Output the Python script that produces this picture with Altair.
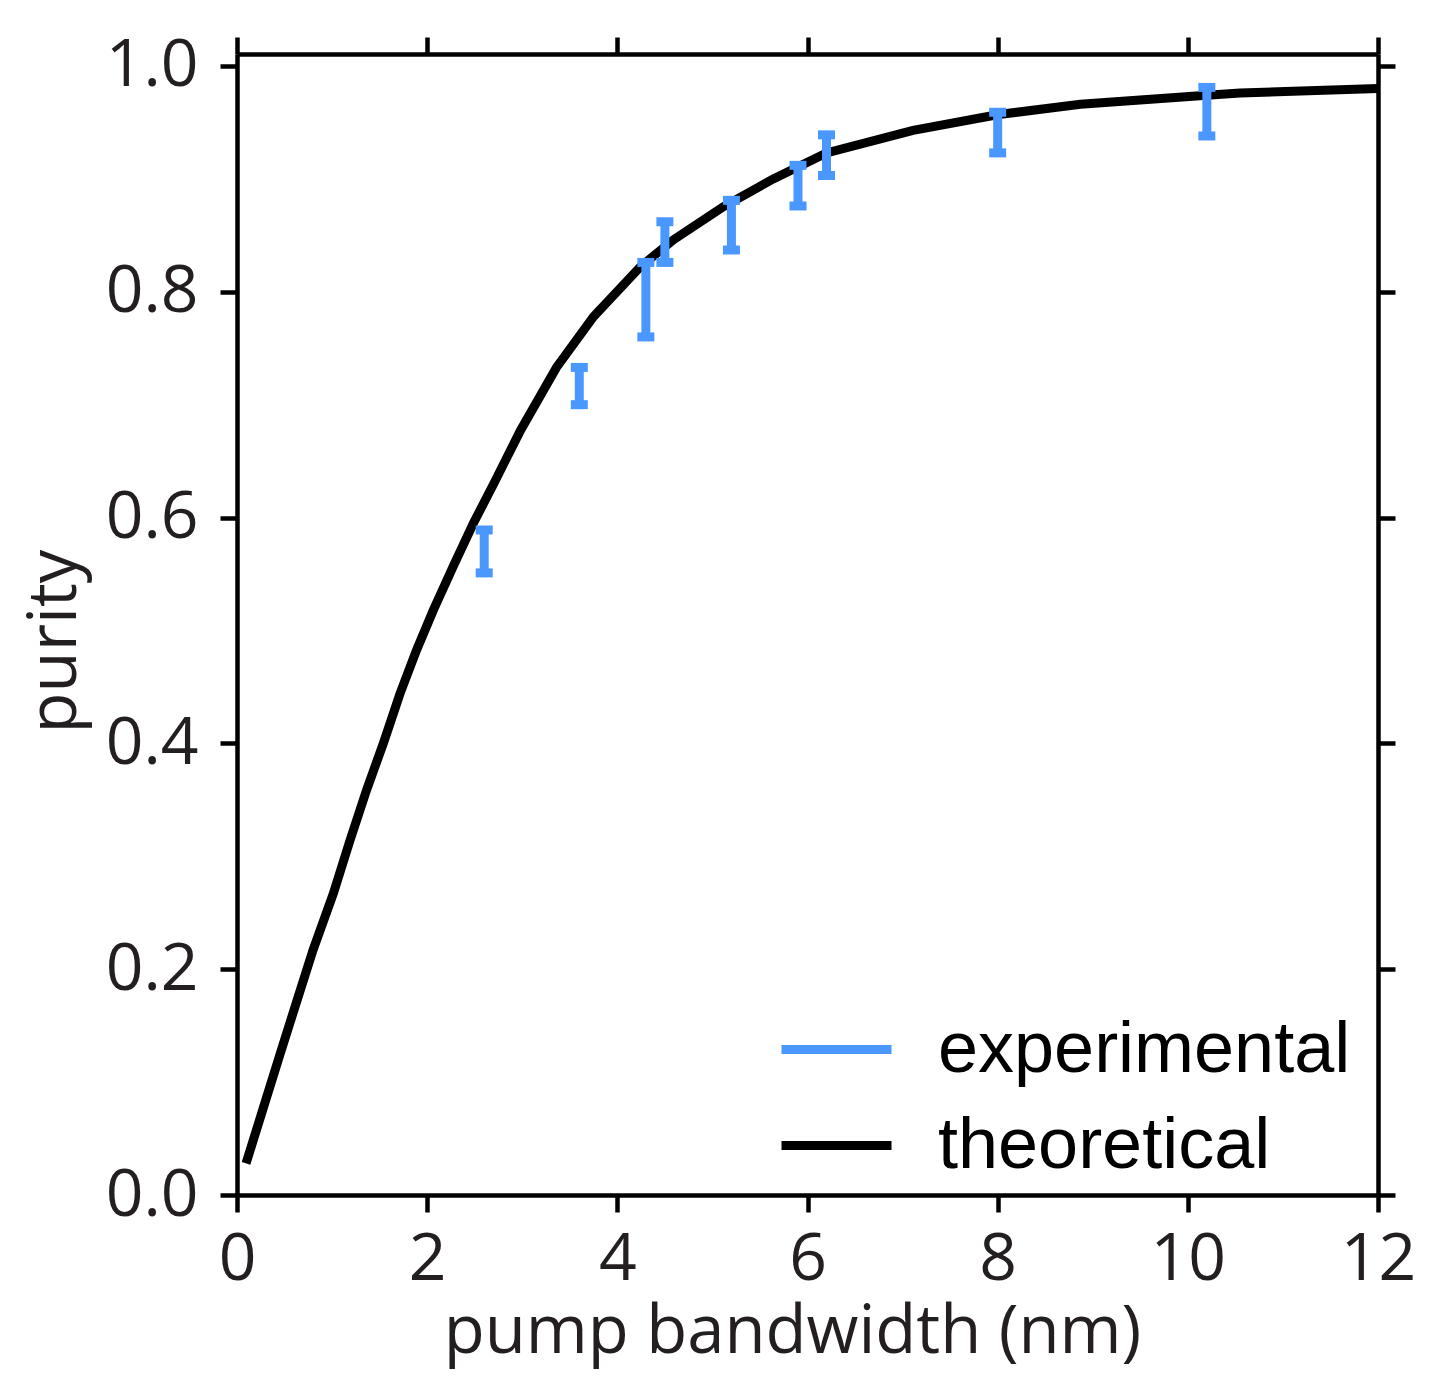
import altair as alt
import pandas as pd

# theoretical curve
curve_x = [0.095, 0.28, 0.45, 0.63, 0.80, 1.013, 1.188, 1.364, 1.539, 1.714, 1.89, 2.065,
           2.275, 2.486, 2.70, 2.98, 3.36, 3.75, 4.24, 4.59, 5.11, 5.64, 6.20, 7.11,
           8.01, 8.87, 10.2, 10.55, 12.0]
curve_y = [0.028, 0.078, 0.124, 0.172, 0.217, 0.267, 0.314, 0.359, 0.400, 0.444, 0.483, 0.518,
           0.557, 0.595, 0.630, 0.677, 0.733, 0.778, 0.822, 0.846, 0.875, 0.900, 0.923, 0.943,
           0.957, 0.966, 0.974, 0.976, 0.980]

# experimental error bars
err_x = [2.6, 3.6, 4.3, 4.5, 5.2, 5.9, 6.2, 8.0, 10.2]
err_lo = [0.551, 0.700, 0.760, 0.826, 0.837, 0.876, 0.903, 0.923, 0.938]
err_hi = [0.589, 0.733, 0.826, 0.862, 0.881, 0.912, 0.939, 0.959, 0.981]

series_names = ["experimental", "theoretical"]
series_colors = ["#4a98ff", "#000000"]
x_ticks = [0, 2, 4, 6, 8, 10, 12]
y_ticks = [0.0, 0.2, 0.4, 0.6, 0.8, 1.0]

curve_df = pd.DataFrame({"x": curve_x, "y": curve_y, "series": "theoretical"})
err_df = pd.DataFrame({"x": err_x, "lo": err_lo, "hi": err_hi, "series": "experimental"})

FONT = "Open Sans"
TXT = "#231f20"
xscale = alt.Scale(domain=[0, 12], nice=False, zero=False)
yscale = alt.Scale(domain=[0, 1.0106], nice=False, zero=False)

common_axis = dict(grid=False, tickSize=17, tickWidth=4.5, domainWidth=4.5,
                   domainColor="black", tickColor="black", labelFont=FONT,
                   labelFontSize=66, labelColor=TXT, titleFont=FONT,
                   titleFontSize=67, titleColor=TXT, titleFontWeight="normal",
                   labelFlush=False, labelOverlap=False)

color = alt.Color(
    "series:N",
    scale=alt.Scale(domain=series_names, range=series_colors),
    legend=alt.Legend(title=None, orient="none", legendX=540, legendY=936,
                      symbolType="stroke", symbolSize=12100, symbolStrokeWidth=9,
                      symbolOpacity=1,
                      labelFont="Liberation Sans", labelFontSize=72, labelLimit=0,
                      labelColor="black", labelOffset=42, rowPadding=0, padding=0),
)

bottom_x = alt.X("x:Q", scale=xscale,
                 axis=alt.Axis(orient="bottom", values=x_ticks, format="d",
                               title="pump bandwidth (nm)", labelPadding=15,
                               titleX=555, titleY=157, titleBaseline="alphabetic",
                               titleAlign="center", **common_axis))
left_y = alt.Y("y:Q", scale=yscale,
               axis=alt.Axis(orient="left", values=y_ticks, format=".1f",
                             title="purity", labelPadding=22,
                             titleX=-162, titleY=587, titleAngle=-90,
                             titleBaseline="alphabetic", titleAlign="center",
                             **common_axis))
top_x = alt.X("x:Q", scale=xscale,
              axis=alt.Axis(orient="top", values=x_ticks, labels=False, title=None,
                            **common_axis))
right_y = alt.Y("lo:Q", scale=yscale,
                axis=alt.Axis(orient="right", values=y_ticks, labels=False, title=None,
                              **common_axis))

line = alt.Chart(curve_df).mark_line(strokeWidth=9, strokeCap="butt", opacity=1).encode(
    x=bottom_x, y=left_y, color=color)

rules = alt.Chart(err_df).mark_rule(strokeWidth=9, opacity=1).encode(
    x=top_x, y=right_y, y2="hi:Q", color=color)

caps_lo = alt.Chart(err_df).mark_tick(orient="horizontal", size=17, thickness=9,
                                      opacity=1).encode(
    x=alt.X("x:Q", scale=xscale, axis=None),
    y=alt.Y("lo:Q", scale=yscale, axis=None), color=color)
caps_hi = alt.Chart(err_df).mark_tick(orient="horizontal", size=17, thickness=9,
                                      opacity=1).encode(
    x=alt.X("x:Q", scale=xscale, axis=None),
    y=alt.Y("hi:Q", scale=yscale, axis=None), color=color)

chart = alt.layer(line, rules, caps_lo, caps_hi).resolve_axis(
    x="independent", y="independent"
).properties(
    width=1141, height=1141,
    autosize=alt.AutoSizeParams(type="none"),
    padding={"left": 229, "top": 46, "right": 48, "bottom": 180},
    background="white",
).configure_view(stroke=None)

chart.save("out.html", embed_options={"renderer": "svg", "actions": False})
